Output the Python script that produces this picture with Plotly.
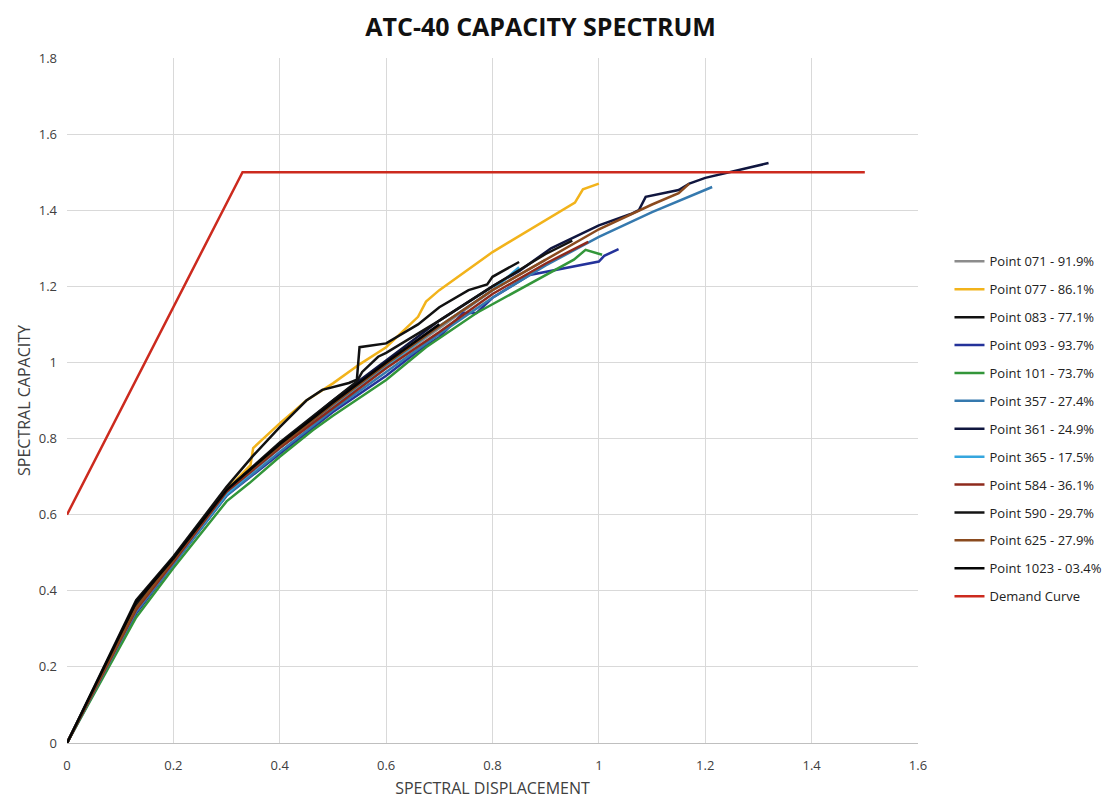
import plotly.graph_objects as go

# ---- data ----
names = ["Point 071 - 91.9%", "Point 077 - 86.1%", "Point 083 - 77.1%", "Point 093 - 93.7%",
         "Point 101 - 73.7%", "Point 357 - 27.4%", "Point 361 - 24.9%", "Point 365 - 17.5%",
         "Point 584 - 36.1%", "Point 590 - 29.7%", "Point 625 - 27.9%", "Point 1023 - 03.4%",
         "Demand Curve"]
colors = ["#8C8C8C", "#F2B31B", "#111111", "#24329A", "#33963A", "#3579AE", "#10163F",
          "#35A6DE", "#8E2A1C", "#141414", "#8A4A1E", "#050505", "#CC2A1E"]

p071_x = [0, 0.13, 0.2, 0.3, 0.4, 0.5, 0.6, 0.7, 0.8, 0.9]
p071_y = [0, 0.35, 0.475, 0.655, 0.775, 0.885, 0.99, 1.09, 1.19, 1.27]

p077_x = [0, 0.13, 0.2, 0.3, 0.345, 0.35, 0.4, 0.45, 0.5, 0.55, 0.6, 0.66, 0.675, 0.7, 0.8, 0.9, 0.955, 0.97, 1.0]
p077_y = [0, 0.355, 0.48, 0.665, 0.73, 0.775, 0.84, 0.9, 0.945, 0.995, 1.04, 1.12, 1.16, 1.19, 1.29, 1.375, 1.42, 1.455, 1.47]

p083_x = [0, 0.13, 0.2, 0.3, 0.35, 0.4, 0.45, 0.48, 0.53, 0.545, 0.55, 0.6, 0.66, 0.7, 0.755, 0.79, 0.8, 0.85]
p083_y = [0, 0.375, 0.49, 0.673, 0.755, 0.83, 0.9, 0.928, 0.946, 0.955, 1.04, 1.05, 1.1, 1.145, 1.19, 1.205, 1.225, 1.264]

p093_x = [0, 0.13, 0.2, 0.3, 0.4, 0.5, 0.6, 0.66, 0.7, 0.745, 0.77, 0.8, 0.87, 0.957, 1.0, 1.01, 1.037]
p093_y = [0, 0.34, 0.47, 0.65, 0.76, 0.87, 0.965, 1.03, 1.067, 1.13, 1.13, 1.17, 1.23, 1.254, 1.265, 1.28, 1.298]

p101_x = [0, 0.13, 0.2, 0.3, 0.343, 0.4, 0.462, 0.5, 0.6, 0.675, 0.77, 0.893, 0.953, 0.975, 1.006]
p101_y = [0, 0.33, 0.46, 0.635, 0.683, 0.752, 0.822, 0.86, 0.954, 1.04, 1.13, 1.225, 1.27, 1.296, 1.283]

p357_x = [0, 0.13, 0.2, 0.3, 0.4, 0.5, 0.6, 0.7, 0.8, 0.9, 1.0, 1.1, 1.213]
p357_y = [0, 0.345, 0.47, 0.65, 0.765, 0.875, 0.975, 1.075, 1.17, 1.255, 1.33, 1.395, 1.461]

p361_x = [0, 0.13, 0.2, 0.3, 0.4, 0.5, 0.6, 0.7, 0.8, 0.85, 0.91, 0.94, 1.0, 1.06, 1.075, 1.088, 1.15, 1.17, 1.2, 1.319]
p361_y = [0, 0.36, 0.48, 0.665, 0.785, 0.9, 1.005, 1.11, 1.2, 1.24, 1.3, 1.32, 1.36, 1.39, 1.40, 1.435, 1.453, 1.47, 1.485, 1.524]

p365_x = [0, 0.13, 0.2, 0.3, 0.4, 0.5, 0.6, 0.7, 0.8, 0.85]
p365_y = [0, 0.35, 0.475, 0.655, 0.775, 0.885, 0.99, 1.095, 1.19, 1.25]

p584_x = [0, 0.13, 0.2, 0.3, 0.4, 0.5, 0.6, 0.7, 0.8, 0.9, 0.98]
p584_y = [0, 0.35, 0.475, 0.66, 0.775, 0.88, 0.985, 1.08, 1.18, 1.26, 1.317]

p590_x = [0, 0.13, 0.2, 0.3, 0.4, 0.5, 0.545, 0.555, 0.585, 0.6, 0.7, 0.8, 0.9, 0.95]
p590_y = [0, 0.36, 0.485, 0.665, 0.79, 0.9, 0.95, 0.975, 1.015, 1.025, 1.11, 1.2, 1.285, 1.32]

p625_x = [0, 0.13, 0.2, 0.3, 0.4, 0.5, 0.6, 0.7, 0.8, 0.9, 1.0, 1.1, 1.15, 1.17]
p625_y = [0, 0.355, 0.48, 0.665, 0.78, 0.89, 0.995, 1.095, 1.19, 1.27, 1.35, 1.415, 1.445, 1.47]

p1023_x = [0, 0.13, 0.2, 0.3, 0.4, 0.5, 0.6, 0.7]
p1023_y = [0, 0.37, 0.485, 0.665, 0.785, 0.895, 1.0, 1.1]

demand_x = [0, 0.33, 1.5]
demand_y = [0.6, 1.5, 1.5]

series_x = [p071_x, p077_x, p083_x, p093_x, p101_x, p357_x, p361_x, p365_x,
            p584_x, p590_x, p625_x, p1023_x, demand_x]
series_y = [p071_y, p077_y, p083_y, p093_y, p101_y, p357_y, p361_y, p365_y,
            p584_y, p590_y, p625_y, p1023_y, demand_y]

x_ticks = [0, 0.2, 0.4, 0.6, 0.8, 1, 1.2, 1.4, 1.6]
x_ticklabels = ["0", "0.2", "0.4", "0.6", "0.8", "1", "1.2", "1.4", "1.6"]
y_ticks = [0, 0.2, 0.4, 0.6, 0.8, 1, 1.2, 1.4, 1.6, 1.8]
y_ticklabels = ["0", "0.2", "0.4", "0.6", "0.8", "1", "1.2", "1.4", "1.6", "1.8"]

fig = go.Figure()
for i, (nm, xs, ys, c) in enumerate(zip(names, series_x, series_y, colors)):
    fig.add_trace(go.Scatter(x=xs, y=ys, mode="lines", name=nm, legendgroup=nm,
                             line=dict(color=c, width=2.5)))

font_fam = "Open Sans, Liberation Sans, sans-serif"
fig.update_layout(
    width=1112, height=802,
    paper_bgcolor="white", plot_bgcolor="white",
    margin=dict(l=59, r=200, t=50, b=67),
    title=dict(text="<b>ATC-40 CAPACITY SPECTRUM</b>", x=0.479, xanchor="center",
               y=0.976, yanchor="middle", font=dict(family=font_fam, size=25, color="#111111")),
    font=dict(family=font_fam, size=12, color="#404040"),
    legend=dict(x=1.037, xanchor="left", y=0.725, yanchor="top",
                tracegroupgap=8, font=dict(size=13, color="#222222"),
                bgcolor="rgba(0,0,0,0)"),
    xaxis=dict(range=[0, 1.6], tickvals=x_ticks, ticktext=x_ticklabels,
               showgrid=True, gridcolor="#D9D9D9", gridwidth=1,
               zeroline=False, showline=True, linecolor="#BFBFBF",
               ticks="", ticklabelstandoff=10, tickfont=dict(size=13, color="#404040"),
               title=dict(text="SPECTRAL DISPLACEMENT", font=dict(size=16, color="#404040"), standoff=10)),
    yaxis=dict(range=[0, 1.8], tickvals=y_ticks, ticktext=y_ticklabels,
               showgrid=True, gridcolor="#D9D9D9", gridwidth=1,
               zeroline=False, showline=False,
               ticks="", ticklabelstandoff=9, tickfont=dict(size=13, color="#404040"),
               title=dict(text="SPECTRAL CAPACITY", font=dict(size=16, color="#404040"), standoff=4)),
)

fig.write_html("out.html")
